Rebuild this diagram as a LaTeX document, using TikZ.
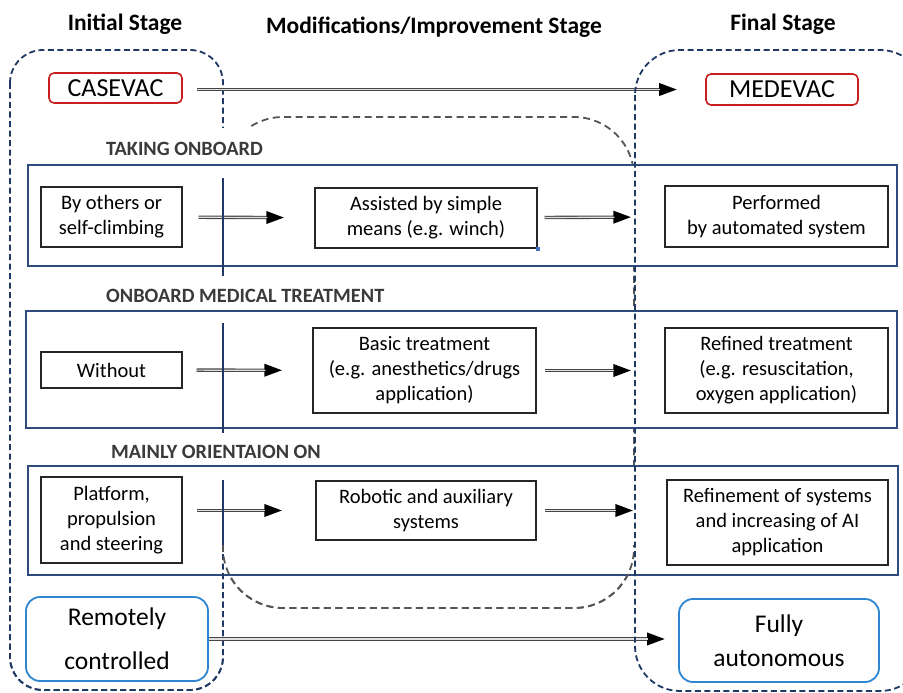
\documentclass[tikz,border=0pt]{standalone}
\usepackage{fontspec}
\setmainfont{Carlito}
\usetikzlibrary{arrows.meta}
\definecolor{navy}{HTML}{203864}
\definecolor{rowc}{HTML}{2F4A7C}
\definecolor{grayd}{HTML}{555555}
\definecolor{redc}{HTML}{C81E1E}
\definecolor{bluec}{HTML}{2E86D0}
\definecolor{lblc}{HTML}{3A3A3A}
\definecolor{handlec}{HTML}{4472C4}
\tikzset{
  navydash/.style={draw=navy, line width=1.8pt, dash pattern=on 6pt off 3.5pt, rounded corners=33pt},
  graydash/.style={draw=grayd, line width=1.8pt, dash pattern=on 7pt off 4.5pt, rounded corners=60pt},
  rowbox/.style={draw=rowc, line width=1.5pt, fill=white, inner sep=0pt},
  lbl/.style={inner sep=0pt, anchor=west, font=\fontsize{20.3}{23}\selectfont\bfseries, text=lblc},
  ibox/.style={draw=black!85, line width=1.3pt, inner sep=0pt, align=center, font=\fontsize{20.5}{25}\selectfont},
  ttl/.style={font=\fontsize{23.5}{27}\selectfont\bfseries},
  redbox/.style={draw=redc, line width=1.6pt, rounded corners=5pt, inner sep=0pt, font=\fontsize{26}{30}\selectfont},
  bluebox/.style={draw=bluec, line width=1.8pt, rounded corners=14pt, inner sep=0pt, align=center},
  shaft/.style={draw=black!72, line width=3.4pt, -{Triangle[length=18pt,width=12pt,color=black]}},
  innershaft/.style={draw=black!12, line width=1.2pt},
  vseg/.style={draw=navy, line width=1.6pt},
}
% double-line arrow: #1 start shortening, #2 end shortening, #3 start, #4 end
\newcommand{\dblarr}[4]{%
  \draw[shaft, shorten <=#1pt, shorten >=#2pt] #3 -- #4;
  \draw[innershaft, shorten <=#1pt, shorten >=#2pt+17pt] #3 -- #4;}
\begin{document}
\begin{tikzpicture}[x=1pt,y=-1pt]
\useasboundingbox (0,0) rectangle (903,693);
\clip (0,0) rectangle (903,693);
% stage frames
\draw[navydash] (10,50) rectangle (223,690);
\draw[graydash] (223,117) rectangle (634,608);
% row frames
\node[rowbox, minimum width=869pt, minimum height=101pt] (r1) at (462.5,215.5) {};
\node[rowbox, minimum width=871pt, minimum height=117pt] (r2) at (461.5,369.5) {};
\node[rowbox, minimum width=870pt, minimum height=109pt] (r3) at (463,520.5) {};
% white cover behind the section labels
\fill[white] (100,128) rectangle (345,163.5);
\fill[white] (100,268) rectangle (400,309.5);
\fill[white] (100,429) rectangle (345,464.5);
% section labels
\node[lbl] (l1) at (106,149) {TAKING ONBOARD};
\node[lbl] (l2) at (106,296) {ONBOARD MEDICAL TREATMENT};
\node[lbl] (l3) at (111,452) {MAINLY ORIENTAION ON};
% redraw lower part of the frames
\begin{scope}
\clip (0,545) rectangle (903,693);
\draw[navydash] (10,50) rectangle (223,690);
\draw[graydash] (223,117) rectangle (634,608);
\end{scope}
% titles
\node[ttl] (t1) at (125,24) {Initial Stage};
\node[ttl] (t2) at (434,27) {Modifications/Improvement Stage};
\node[ttl] (t3) at (783,24) {Final Stage};
% top and bottom
\node[redbox, minimum width=133pt, minimum height=30pt] (cas) at (115.5,88) {CASEVAC};
\node[redbox, minimum width=152pt, minimum height=31pt] (med) at (782,89.5) {MEDEVAC};
\node[bluebox, minimum width=182pt, minimum height=84pt, font=\fontsize{25.5}{44}\selectfont] (rem) at (117,639) {Remotely\\controlled};
\node[bluebox, minimum width=200pt, minimum height=83pt, font=\fontsize{25.5}{34}\selectfont] (ful) at (779,640.5) {Fully\\autonomous};
% row 1
\node[ibox, minimum width=141pt, minimum height=60pt] (a1) at (111.5,217) {By others or\\self-climbing};
\node[ibox, minimum width=222pt, minimum height=60pt] (b1) at (426,218) {Assisted by simple\\means (e.g. winch)};
\node[ibox, minimum width=223pt, minimum height=61pt] (c1) at (776.5,216.5) {Performed\\by automated system};
\fill[handlec] (b1.south east) ++(-2,-2) rectangle ++(4,4);
% row 2
\node[ibox, minimum width=141pt, minimum height=36pt] (a2) at (111.5,370) {Without};
\node[ibox, minimum width=223pt, minimum height=85pt] (b2) at (424.5,370.5) {Basic treatment\\(e.g. anesthetics/drugs\\application)};
\node[ibox, minimum width=223pt, minimum height=85pt] (c2) at (776.5,370.5) {Refined treatment\\(e.g. resuscitation,\\oxygen application)};
% row 3
\node[ibox, minimum width=141pt, minimum height=86pt] (a3) at (111.5,520) {Platform,\\propulsion\\and steering};
\node[ibox, minimum width=220pt, minimum height=59pt] (b3) at (426,510.5) {Robotic and auxiliary\\systems};
\node[ibox, minimum width=221pt, minimum height=85pt] (c3) at (777.5,522.5) {Refinement of systems\\and increasing of AI\\application};
% arrows
\dblarr{14}{28}{(cas.east |- med.west)}{(med.west)}
\dblarr{16}{30}{(a1)}{(b1)}
\dblarr{7}{33}{(b1)}{(c1)}
\dblarr{14}{30}{(a2)}{(b2)}
\dblarr{8}{33}{(b2)}{(c2)}
\dblarr{14}{33}{(a3.east |- b3.east)}{(b3.west)}
\dblarr{8}{33}{(b3.east)}{(b3.east -| c3.west)}
\dblarr{0}{13}{(rem.east)}{(rem.east -| ful.west)}
% final-stage frame and solid stage borders on top
\draw[navydash, rounded corners=45pt] (635,50) rectangle (925,691);
\draw[vseg] (223,178) -- (223,276);
\draw[vseg] (223,323) -- (223,433);
\draw[vseg] (223,480) -- (223,545);
\end{tikzpicture}
\end{document}
